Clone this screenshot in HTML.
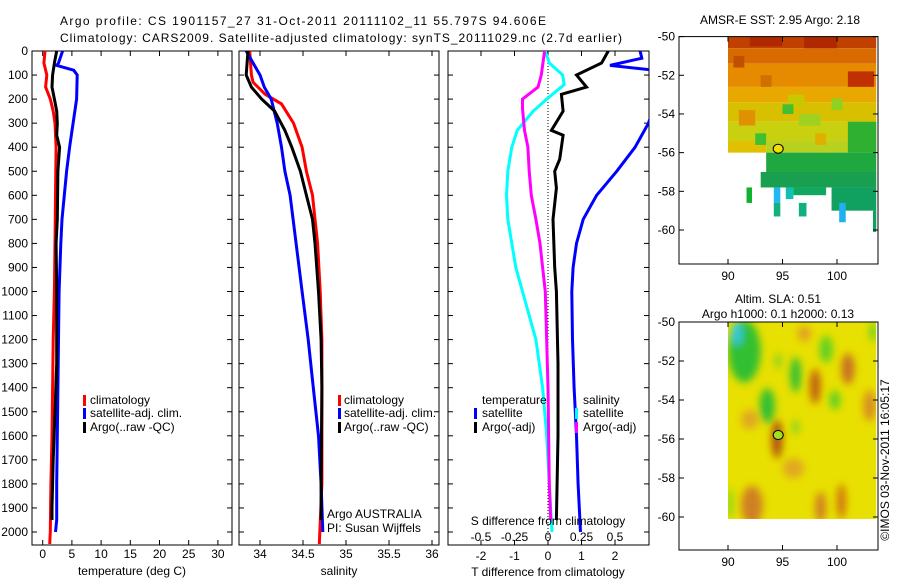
<!DOCTYPE html>
<html><head><meta charset="utf-8">
<style>
html,body{margin:0;padding:0;background:#fff;}
svg{display:block;font-family:"Liberation Sans",sans-serif;}
text{font-size:12px;fill:#000;}
</style></head>
<body>
<svg id="fig" width="900" height="580" viewBox="0 0 900 580" xmlns="http://www.w3.org/2000/svg">
<defs>
<clipPath id="c1"><rect x="32" y="51" width="200" height="494"/></clipPath>
<clipPath id="c2"><rect x="239" y="51" width="200" height="494"/></clipPath>
<clipPath id="c3"><rect x="448" y="51" width="201" height="494"/></clipPath>
<filter id="blur" x="-50%" y="-50%" width="200%" height="200%"><feGaussianBlur stdDeviation="4"/></filter>
<clipPath id="cm2"><rect x="728" y="322" width="148" height="197"/></clipPath>
</defs>
<text x="60" y="25" textLength="486">Argo profile: CS 1901157_27 31-Oct-2011 20111102_11 55.797S 94.606E</text>
<text x="60" y="42" textLength="562">Climatology: CARS2009. Satellite-adjusted climatology: synTS_20111029.nc (2.7d earlier)</text>
<g id="g"></g>
</svg>
<script>
// ---- data: depth (m) and values ----
const tClimDepth=[0,50,100,150,200,250,300,400,600,800,1000,1200,1400,1600,1800,2000,2050];
const tClim=[0.4,0.2,0.7,0.5,1.3,1.8,2.1,2.3,2.2,2.1,2.0,1.8,1.7,1.6,1.4,1.3,1.2];
const tSatDepth=[0,50,60,80,100,200,300,400,500,600,700,800,1000,1200,1400,1600,1800,1950,2000];
const tSat=[3.4,2.7,2.4,5.3,5.9,5.8,5.2,4.6,4.1,3.7,3.3,3.1,2.8,2.7,2.6,2.5,2.4,2.4,2.2];
const tArgoDepth=[0,50,100,150,200,250,300,350,400,500,700,800,1000,1300,1500,1700,1900,1950];
const tArgo=[2.4,2.0,1.7,1.6,2.0,2.4,2.5,2.4,2.9,2.6,2.5,2.3,2.4,2.4,2.1,1.8,1.6,1.6];

const sClimDepth=[0,100,130,180,220,300,400,500,600,700,800,1000,1200,1800,2050];
const sClim=[33.88,33.90,33.92,34.06,34.25,34.39,34.49,34.54,34.61,34.64,34.67,34.70,34.72,34.72,34.69];
const sSatDepth=[0,50,100,150,200,300,400,500,600,800,1000,1200,1400,1600,1800,2000];
const sSat=[33.84,33.92,34.0,34.05,34.13,34.20,34.25,34.29,34.35,34.42,34.49,34.56,34.62,34.68,34.71,34.73];
const sArgoDepth=[0,100,150,200,250,330,400,500,600,700,800,1000,1200,1400,1800,1950];
const sArgo=[33.86,33.84,33.90,34.02,34.17,34.29,34.37,34.47,34.54,34.61,34.64,34.68,34.71,34.72,34.71,34.71];

const dTSatDepth=[0,30,60,85,300,400,500,600,700,800,900,1000,1200,1400,1600,1800,2000];
const dTSat=[2.75,2.8,1.85,3.5,3.0,2.6,2.05,1.45,1.05,0.85,0.75,0.71,0.73,0.78,0.85,0.9,0.97];
const dTArgoDepth=[0,50,100,150,180,250,330,350,450,500,570,700,900,1000,1300,1600,1950];
const dTArgo=[1.8,1.6,0.85,1.15,0.4,0.45,0.1,0.45,0.35,0.2,0.25,0.15,0.2,0.25,0.3,0.3,0.25];
const dSSatDepth=[0,50,100,140,200,250,330,400,500,600,700,900,1000,1200,1400,1600,1800,2000];
const dSSat=[-0.02,0.01,0.11,0.12,-0.01,-0.11,-0.23,-0.27,-0.30,-0.31,-0.30,-0.24,-0.19,-0.09,-0.04,-0.01,0.01,0.03];
const dSArgoDepth=[0,100,150,200,240,330,400,500,600,700,800,900,1000,1400,1800,1950];
const dSArgo=[-0.025,-0.05,-0.075,-0.19,-0.19,-0.175,-0.15,-0.14,-0.125,-0.09,-0.06,-0.04,-0.02,0.0,0.01,0.02];

const depthTicks=[0,100,200,300,400,500,600,700,800,900,1000,1100,1200,1300,1400,1500,1600,1700,1800,1900,2000];
const tTicks=[0,5,10,15,20,25,30];
const sTicks=[34,34.5,35,35.5,36];
const sTickLabels=["34","34.5","35","35.5","36"];
const dTTicks=[-2,-1,0,1,2];
const dSTicks=[-0.5,-0.25,0,0.25,0.5];
const latTicks=[-50,-52,-54,-56,-58,-60];
const lonTicks=[90,95,100];
const floatLon=94.606, floatLat=-55.797;

// ---- axes ----
const Y=d=>51+d*0.2405;
const X1=t=>42.7+t*5.84;
const X2=s=>260+(s-34)*86;
const X3=t=>548+t*33.5;
const X3s=s=>548+s*134;
const MX=l=>728+(l-90)*10.9;
const MY1=l=>36.6+(-50-l)*19.34;
const MY2=l=>322+(-50-l)*19.5;

const NS='http://www.w3.org/2000/svg';
const G=document.getElementById('g');
function mk(tag,attrs,parent){const e=document.createElementNS(NS,tag);for(const k in attrs)e.setAttribute(k,attrs[k]);(parent||G).appendChild(e);return e;}
function txt(x,y,s,anchor,parent){const e=mk('text',{x:x,y:y,'text-anchor':anchor||'start'},parent);e.textContent=s;return e;}

function frame(x0,x1,y0,y1,name){
  const r=mk('rect',{x:x0,y:y0,width:x1-x0,height:y1-y0,fill:'none',stroke:'#000','stroke-width':1});
  
  
}
function line(xs,ds,fx,color,clip,name,w){
  const pts=xs.map((v,i)=>fx(v).toFixed(1)+','+Y(ds[i]).toFixed(1)).join(' ');
  const p=mk('polyline',{points:pts,fill:'none',stroke:color,'stroke-width':w||3,'clip-path':'url(#'+clip+')'});
  
  
}
function depthTicksDraw(x0,x1,labels){
  depthTicks.forEach(d=>{
    mk('line',{x1:x0,x2:x0+5,y1:Y(d),y2:Y(d),stroke:'#000'});
    mk('line',{x1:x1,x2:x1-5,y1:Y(d),y2:Y(d),stroke:'#000'});
    if(labels){const t=txt(x0-4,Y(d)+4,String(d),'end');
      
      }
  });
}
function xTicks(vals,f,labels,ly){
  vals.forEach((v,i)=>{const x=f(v);
    mk('line',{x1:x,x2:x,y1:545,y2:540,stroke:'#000'});
    mk('line',{x1:x,x2:x,y1:51,y2:56,stroke:'#000'});
    if(labels){const t=txt(x,ly,labels[i],'middle');
      
      }
  });
}
function legendMark(x,y,color){mk('rect',{x:x,y:y-9,width:3,height:11,fill:color});}

// Panel 1 temperature
frame(32,232,51,545,'temperature-panel');
depthTicksDraw(32,232,true);
xTicks(tTicks,X1,tTicks.map(String),558);
line(tClim,tClimDepth,X1,'#f00','c1','temp-climatology-line');
line(tSat,tSatDepth,X1,'#00f','c1','temp-satellite-line');
line(tArgo,tArgoDepth,X1,'#000','c1','temp-argo-line');
let t=txt(132,575,'temperature (deg C)','middle');


[['climatology','#f00',404],['satellite-adj. clim.','#00f',417],['Argo(..raw -QC)','#000',431]].forEach(a=>{
  legendMark(83,a[2],a[1]);const e=txt(90,a[2],a[0]);
  
  
});

// Panel 2 salinity
frame(239,439,51,545,'salinity-panel');
depthTicksDraw(239,439,false);
xTicks(sTicks,X2,sTickLabels,558);
line(sClim,sClimDepth,X2,'#f00','c2','sal-climatology-line');
line(sSat,sSatDepth,X2,'#00f','c2','sal-satellite-line');
line(sArgo,sArgoDepth,X2,'#000','c2','sal-argo-line');
t=txt(339,575,'salinity','middle');


[['climatology','#f00',404],['satellite-adj. clim.','#00f',417],['Argo(..raw -QC)','#000',431]].forEach(a=>{
  legendMark(338,a[2],a[1]);const e=txt(344,a[2],a[0]);
  
  
});
t=txt(327,518,'Argo AUSTRALIA');


t=txt(327,532,'PI: Susan Wijffels');



// Panel 3 differences
frame(448,649,51,545,'difference-panel');
depthTicksDraw(448,649,false);
mk('line',{x1:548,x2:548,y1:51,y2:545,stroke:'#000','stroke-dasharray':'1,2'});
xTicks(dTTicks,X3,dTTicks.map(String),560);
line(dTSat,dTSatDepth,X3,'#00f','c3','dT-satellite-line');
line(dTArgo,dTArgoDepth,X3,'#000','c3','dT-argo-line');
line(dSSat,dSSatDepth,X3s,'#0ff','c3','dS-satellite-line');
line(dSArgo,dSArgoDepth,X3s,'#f0f','c3','dS-argo-line');
dSTicks.forEach(v=>{const e=txt(X3s(v),541,String(v),'middle');
  
  });
t=txt(548,525,'S difference from climatology','middle');


t=txt(548,576,'T difference from climatology','middle');


t=txt(482,404,'temperature');


t=txt(583,404,'salinity');


[['satellite','#00f',474,482,417],['Argo(-adj)','#000',474,482,431],['satellite','#0ff',575,583,417],['Argo(-adj)','#f0f',575,583,431]].forEach(a=>{
  legendMark(a[2],a[4],a[1]);const e=txt(a[3],a[4],a[0]);
  
  
});

// ---- maps ----
function mapAxes(MY,y0,y1,name){
  frame(679,878,y0,y1,name);
  latTicks.forEach(l=>{const y=MY(l);
    mk('line',{x1:679,x2:684,y1:y,y2:y,stroke:'#000'});
    mk('line',{x1:878,x2:873,y1:y,y2:y,stroke:'#000'});
    const e=txt(675,y+4,String(l),'end');
    
    });
  lonTicks.forEach(l=>{const x=MX(l);
    mk('line',{x1:x,x2:x,y1:y1,y2:y1-5,stroke:'#000'});
    mk('line',{x1:x,x2:x,y1:y0,y2:y0+5,stroke:'#000'});
    const e=txt(x,y1+16,String(l),'middle');
    
    });
}
// SST map cells: [lon0,lon1,lat0,lat1,color]
const sstCells=[
 [90,103.6,-50,-50.6,'#c04000'],[90,103.6,-50.6,-51.4,'#d86a00'],[90,103.6,-51.4,-52.6,'#e68a00'],
 [90,103.6,-52.6,-53.4,'#e8a800'],[90,103.6,-53.4,-54.4,'#d8c000'],[90,103.6,-54.4,-55.4,'#c8d010'],
 [90,93.5,-55.4,-56,'#e0c000'],[93.5,103.6,-55.4,-56,'#b8d020'],
 [101,103.4,-51.8,-52.6,'#c03000'],[92,95,-50,-50.5,'#b02800'],[97,100,-50,-50.6,'#b02800'],
 [90.5,91.5,-51,-51.6,'#c05000'],[93,94,-52,-52.6,'#d07000'],[95.5,97,-53,-53.6,'#c8c800'],
 [91,92.5,-53.8,-54.6,'#e09000'],[96.5,98.5,-54,-54.6,'#a0d020'],[98,99,-55,-55.6,'#e0b000'],
 [95,96,-53.5,-54,'#40c030'],[99.5,100.5,-53.2,-53.8,'#90d020'],[92.5,93.5,-55,-55.6,'#40c030'],
 [101,103.6,-54.4,-56,'#30b030'],[93.5,103.6,-56,-57,'#20a840'],[93,103.6,-57,-57.8,'#18a050'],
 [96,99,-57.8,-58.2,'#10a860'],[99.5,103.6,-57.8,-59,'#10a060'],[91.7,92.2,-57.8,-58.6,'#10b030'],
 [94.2,94.8,-57.8,-58.6,'#20b8f0'],[94.2,94.8,-58.6,-59.3,'#10b080'],[96.5,97.2,-58.6,-59.3,'#10b080'],
 [100.2,100.8,-58.6,-59.6,'#20b0f0'],[103.3,103.6,-59,-60.1,'#10a060'],[95.3,96,-57.8,-58.4,'#10c0b0']
];
sstCells.forEach(c=>{const r=mk('rect',{x:MX(c[0]),y:MY1(c[2]),width:MX(c[1])-MX(c[0]),height:MY1(c[3])-MY1(c[2]),fill:c[4]});
  
  });
mapAxes(MY1,36.6,264,'sst-map');
let m=mk('ellipse',{cx:MX(floatLon),cy:MY1(floatLat),rx:5,ry:4.5,fill:'#f0e000',stroke:'#000'});


t=txt(780,24,'AMSR-E SST: 2.95 Argo: 2.18','middle');



// SLA map
const slaBase=mk('rect',{x:MX(90),y:MY2(-50),width:MX(103.6)-MX(90),height:MY2(-60.1)-MY2(-50),fill:'#e8e000'});


const slaBlobs=[
 [91.5,-51.5,1.5,1.6,'#30c030'],[90.8,-50.6,0.5,0.6,'#30c8e0'],[93.6,-54.3,0.7,0.9,'#30c030'],[96.2,-52.7,0.5,0.9,'#30c030'],
 [99,-51.4,0.6,0.7,'#60d020'],[99.8,-54,0.5,0.5,'#60d020'],[96.2,-55.4,0.3,0.4,'#80d020'],[94.6,-52,0.3,0.4,'#80d020'],
 [98,-53.3,0.5,0.9,'#c06010'],[101,-52.4,0.6,0.8,'#c87020'],[94.5,-56,0.5,1.0,'#b05010'],[92.2,-59.4,1,1,'#d08020'],
 [98.5,-59.5,0.5,0.8,'#d08020'],[100.4,-59.2,0.4,0.9,'#d07010'],[97,-50.6,0.6,0.4,'#e0a020'],[103,-54.3,0.6,0.8,'#d89020'],
 [96,-57.5,1,0.5,'#e0a820'],[92,-55,0.8,0.5,'#e0a820'],[90.2,-59.3,0.2,0.8,'#60d020'],[103.3,-50.5,0.3,0.5,'#60d020']
];
const bg=mk('g',{'clip-path':'url(#cm2)'});
const bg2=mk('g',{filter:'url(#blur)'},bg);
slaBlobs.forEach(b=>{const e=mk('ellipse',{cx:MX(b[0]),cy:MY2(b[1]),rx:b[2]*10.9,ry:b[3]*19.5,fill:b[4]},bg2);
  
  });
mapAxes(MY2,322,550,'sla-map');
m=mk('ellipse',{cx:MX(floatLon),cy:MY2(floatLat),rx:5,ry:4.5,fill:'#a0e020',stroke:'#000'});


t=txt(778,303,'Altim. SLA: 0.51','middle');


t=txt(778,318,'Argo h1000: 0.1 h2000: 0.13','middle');


t=txt(0,0,'©IMOS 03-Nov-2011 16:05:17','middle');
t.setAttribute('transform','translate(889,460) rotate(-90)');


</script>
</body></html>
